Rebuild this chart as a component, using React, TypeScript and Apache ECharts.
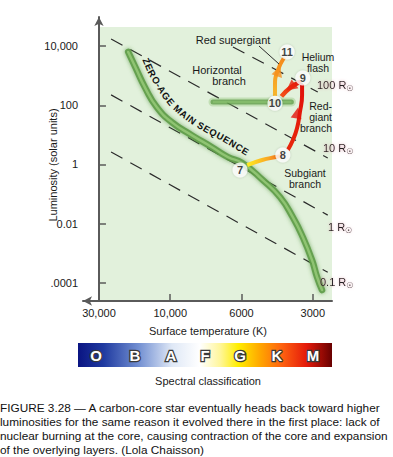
import React, { useEffect, useRef } from "react";
import * as echarts from "echarts";

// ---- data ----
// x axis is the figure's (non-linear) temperature scale: tick i sits at x = i
const tempTickLabels = ["30,000", "10,000", "6000", "3000"];
const tempTickPositions = [0, 1, 2, 3];
// y axis is log10(luminosity)
const lumTickValues = [4, 2, 0, -2, -4];
const lumTickLabels = ["10,000", "100", "1", "0.01", ".0001"];

const radiusNames = ["100", "10", "1", "0.1"];
const radiusStartX = [1.88, 0.17, 0.17, 0.17];
const radiusStartY = [3.97, 4.24, 2.35, 0.42];
const radiusEndX = [3.07, 3.21, 3.21, 3.21];
const radiusEndY = [2.45, 0.22, -1.71, -3.64];

const msX = [0.41, 0.51, 0.65, 0.81, 1.02, 1.3, 1.58, 1.81, 2.01, 2.3, 2.54, 2.72, 2.86, 2.99, 3.06, 3.13];
const msY = [3.8, 3.29, 2.58, 1.94, 1.43, 0.99, 0.59, 0.25, 0.05, -0.53, -1.1, -1.78, -2.45, -3.23, -3.8, -4.24];

const hbX = [1.6, 2.1, 2.7];
const hbY = [2.11, 2.11, 2.11];

const stageNames = ["7", "8", "9", "10", "11"];
const stageX = [1.98, 2.58, 2.86, 2.47, 2.64];
const stageY = [-0.19, 0.32, 2.92, 2.07, 3.8];

const track78X = [2.08, 2.29, 2.48, 2.58];
const track78Y = [-0.02, 0.15, 0.25, 0.3];
const track89X = [2.65, 2.72, 2.78, 2.82, 2.85, 2.85];
const track89Y = [0.49, 0.82, 1.23, 1.77, 2.35, 2.72];
const track910X = [2.83, 2.68, 2.56];
const track910Y = [2.8, 2.58, 2.3];
const track1011X = [2.47, 2.47, 2.5, 2.6];
const track1011Y = [2.3, 2.68, 3.12, 3.62];

const arrowX = [2.78, 2.69, 2.52];
const arrowY = [1.74, 2.61, 3.16];

const spectralClasses = ["O", "B", "A", "F", "G", "K", "M"];

const captionLines = [
  "FIGURE 3.28 \u2014 A carbon-core star eventually heads back toward higher",
  "luminosities for the same reason it evolved there in the first place: lack of",
  "nuclear burning at the core, causing contraction of the core and expansion",
  "of the overlying layers. (Lola Chaisson)",
];

// ---- styles ----
const FONT = "'Liberation Sans', Arial, Helvetica, sans-serif";
const X_MIN = -0.224;
const X_MAX = 3.27;
const Y_MIN = -4.61;
const Y_MAX = 4.98;
const GREEN_TOP = 4.64;
const arrowRot = [-10, 128, -19];
const arrowColors = ["#e3140a", "#e8200c", "#f5901e"];

function zamsGraphics(): any[] {
  const text = "ZERO-AGE MAIN SEQUENCE";
  const path = [
    [143, 59], [149, 73], [156, 85], [163, 96], [171, 106], [181, 115],
    [193, 124], [207, 132], [224, 141], [247, 155],
  ];
  const offset = 2.5; // push letters away from the band (towards upper right)
  const font = `bold 9.5px ${FONT}`;
  const canvas = document.createElement("canvas");
  const ctx = canvas.getContext("2d")!;
  ctx.font = font;
  const widths = text.split("").map((c) => ctx.measureText(c).width || 5);
  const total = widths.reduce((a, b) => a + b, 0);
  const segLen: number[] = [];
  let L = 0;
  for (let i = 1; i < path.length; i++) {
    const d = Math.hypot(path[i][0] - path[i - 1][0], path[i][1] - path[i - 1][1]);
    segLen.push(d);
    L += d;
  }
  const scale = L / total;
  const out: any[] = [];
  let cum = 0;
  text.split("").forEach((ch, i) => {
    const s = (cum + widths[i] / 2) * scale;
    cum += widths[i];
    let acc = 0;
    let k = 0;
    while (k < segLen.length - 1 && acc + segLen[k] < s) {
      acc += segLen[k];
      k++;
    }
    const t = Math.min(1, (s - acc) / segLen[k]);
    const p0 = path[k];
    const p1 = path[k + 1];
    const dx = p1[0] - p0[0];
    const dy = p1[1] - p0[1];
    const len = Math.hypot(dx, dy);
    const x = p0[0] + dx * t + (dy / len) * offset;
    const y = p0[1] + dy * t - (dx / len) * offset;
    const ang = Math.atan2(dy, dx);
    if (ch === " ") return;
    out.push({
      type: "text",
      x,
      y,
      rotation: -ang,
      z: 100,
      style: {
        text: ch,
        x: 0,
        y: 0,
        align: "center",
        verticalAlign: "middle",
        font,
        fill: "#111",
      },
    });
  });
  return out;
}

function txt(text: string, x: number, y: number, align = "center", extra: any = {}) {
  return {
    type: "text",
    x,
    y,
    z: 100,
    style: {
      text,
      x: 0,
      y: 0,
      align,
      verticalAlign: "middle",
      font: `11px ${FONT}`,
      fill: "#1a1a1a",
      ...extra,
    },
  };
}

const stacked = { font: `10.5px ${FONT}`, lineHeight: 11 };

function radiusLabel(name: string, x: number, y: number) {
  const halo = { textShadowColor: "rgba(215,150,165,0.75)", textShadowBlur: 3 };
  return {
    type: "text",
    x,
    y,
    z: 100,
    style: {
      text: `${name} R{s|\u2609}`,
      x: 0,
      y: 0,
      align: "left",
      verticalAlign: "middle",
      font: `11px ${FONT}`,
      fill: "#222",
      ...halo,
      rich: {
        s: {
          font: `8px 'DejaVu Sans', sans-serif`,
          fill: "#222",
          padding: [6, 0, 0, 0],
          ...halo,
        },
      },
    },
  };
}

function lineSeries(xs: number[], ys: number[], lineStyle: any, z = 3, smooth: any = true) {
  return {
    type: "line",
    data: xs.map((x, i) => [x, ys[i]]),
    symbol: "none",
    showSymbol: false,
    smooth,
    silent: true,
    z,
    lineStyle,
  };
}

export default function App() {
  const ref = useRef<HTMLDivElement>(null);
  useEffect(() => {
    if (!ref.current) return;
    const chart = echarts.init(ref.current, undefined, { renderer: "svg" });

    const radiusSeries = radiusNames.map((_, i) =>
      lineSeries(
        [radiusStartX[i], radiusEndX[i]],
        [radiusStartY[i], radiusEndY[i]],
        { color: "#2b2b2b", width: 1.2, type: [13, 9] },
        2,
        false
      )
    );

    const G = echarts.graphic.LinearGradient;

    const series: any[] = [
      {
        type: "line",
        data: [],
        silent: true,
        z: 1,
        markArea: {
          silent: true,
          itemStyle: { color: "#e2f1dc" },
          data: [[{ coord: [0, Y_MIN] }, { coord: [X_MAX, GREEN_TOP] }]],
        },
      },
      ...radiusSeries,
      lineSeries(msX, msY, {
        color: "#5e9c47",
        width: 6.5,
        cap: "round",
        shadowBlur: 4,
        shadowColor: "rgba(70,140,50,0.7)",
        opacity: 0.9,
      }, 3),
      lineSeries(msX, msY, { color: "#94c877", width: 2.5, cap: "round", opacity: 0.9 }, 3),
      lineSeries(hbX, hbY, { color: "#86bc6c", width: 9, cap: "round", opacity: 0.35 }, 3, false),
      lineSeries(hbX, hbY, { color: "#5e9c47", width: 5, cap: "round", opacity: 0.75 }, 3, false),
      lineSeries(hbX, hbY, { color: "#92c874", width: 1.5, opacity: 0.7 }, 3, false),
      lineSeries(track78X, track78Y, {
        width: 4,
        color: new G(0, 0, 1, 0, [
          { offset: 0, color: "#ffec20" },
          { offset: 0.6, color: "#f9a424" },
          { offset: 1, color: "#f05a12" },
        ]),
      }, 4),
      lineSeries(track89X, track89Y, {
        width: 4,
        color: new G(0, 0, 0, 1, [
          { offset: 0, color: "#e0100a" },
          { offset: 1, color: "#e8260c" },
        ]),
      }, 4),
      lineSeries(track910X, track910Y, {
        width: 4.5,
        color: new G(1, 0, 0, 1, [
          { offset: 0, color: "#e3140a" },
          { offset: 1, color: "#f4521a" },
        ]),
      }, 4),
      lineSeries(track1011X, track1011Y, {
        width: 4,
        color: new G(0, 0, 0, 1, [
          { offset: 0, color: "#f5881c" },
          { offset: 1, color: "#f8b82c" },
        ]),
      }, 4),
      {
        type: "scatter",
        silent: true,
        z: 5,
        symbol: "triangle",
        symbolSize: [11, 11],
        data: arrowX.map((x, i) => ({
          value: [x, arrowY[i]],
          symbolRotate: arrowRot[i],
          itemStyle: { color: arrowColors[i] },
        })),
      },
      {
        type: "scatter",
        silent: true,
        z: 6,
        symbol: "circle",
        symbolSize: 15,
        itemStyle: { color: "#ffffff", shadowBlur: 2, shadowColor: "rgba(0,0,0,0.25)" },
        label: {
          show: true,
          position: "inside",
          formatter: (p: any) => p.name,
          fontFamily: FONT,
          fontWeight: "bold",
          fontSize: 11,
          color: "#111",
        },
        data: stageNames.map((n, i) => ({ name: n, value: [stageX[i], stageY[i]] })),
      },
    ];

    const specStops = [
      { offset: 0, color: "#0a1482" },
      { offset: 0.1, color: "#1f3aa0" },
      { offset: 0.24, color: "#7390d2" },
      { offset: 0.37, color: "#dfe8f6" },
      { offset: 0.48, color: "#ffffff" },
      { offset: 0.56, color: "#fff69a" },
      { offset: 0.63, color: "#ffee00" },
      { offset: 0.72, color: "#ffa400" },
      { offset: 0.8, color: "#ff6410" },
      { offset: 0.9, color: "#e41a0a" },
      { offset: 1, color: "#680000" },
    ];
    const specX = [96, 135, 171, 205, 240, 277, 313];

    const graphic: any[] = [
      ...zamsGraphics(),
      { type: "line", z: 90, shape: { x1: 259, y1: 46, x2: 279, y2: 64 }, style: { stroke: "#2b2b2b", lineWidth: 1 } },
      txt("Red supergiant", 233, 40),
      txt("Helium\nflash", 318, 62, "center", stacked),
      txt("Horizontal", 217, 70),
      txt("branch", 229, 81),
      txt("Red-\ngiant\nbranch", 332, 117, "right", stacked),
      txt("Subgiant\nbranch", 305, 178, "center", stacked),
      radiusLabel(radiusNames[0], 317, 85),
      radiusLabel(radiusNames[1], 323, 148),
      radiusLabel(radiusNames[2], 328, 227),
      radiusLabel(radiusNames[3], 320, 282),
      {
        type: "text",
        x: 53,
        y: 165,
        rotation: Math.PI / 2,
        z: 100,
        style: {
          text: "Luminosity (solar units)",
          x: 0, y: 0, align: "center", verticalAlign: "middle",
          font: `11px ${FONT}`, fill: "#1a1a1a",
        },
      },
      txt("Surface temperature (K)", 208, 331),
      {
        type: "rect",
        z: 50,
        shape: { x: 78, y: 343, width: 254, height: 24 },
        style: { fill: new G(0, 0, 1, 0, specStops) },
      },
      ...spectralClasses.map((c, i) => ({
        type: "text",
        x: specX[i],
        y: 355,
        z: 60,
        style: {
          text: c,
          x: 0, y: 0, align: "center", verticalAlign: "middle",
          font: `bold 15px ${FONT}`,
          fill: "#ffffff",
          stroke: "#3a3a3a",
          lineWidth: 2.5,
          strokeFirst: true,
        },
      })),
      txt("Spectral classification", 208, 381),
      ...captionLines.map((l, i) =>
        txt(l, 0, 407.5 + i * 14.3, "left", { font: `11.8px ${FONT}`, fill: "#111" })
      ),
    ];

    chart.setOption({
      animation: false,
      textStyle: { fontFamily: FONT },
      grid: {
        left: 83,
        right: 61,
        top: 17,
        bottom: 156,
        containLabel: false,
        outerBoundsMode: "none",
      },
      xAxis: {
        type: "value",
        min: X_MIN,
        max: X_MAX,
        z: 10,
        splitLine: { show: false },
        axisLine: {
          show: true,
          onZero: false,
          symbol: ["arrow", "none"],
          symbolSize: [7, 9],
          lineStyle: { color: "#5a5a5a", width: 2 },
        },
        axisTick: {
          show: true,
          inside: true,
          length: 7,
          customValues: tempTickPositions.slice(1),
          lineStyle: { color: "#5a5a5a", width: 1.5 },
        },
        axisLabel: {
          show: true,
          customValues: tempTickPositions,
          margin: 6,
          fontSize: 11,
          color: "#1a1a1a",
          fontFamily: FONT,
          formatter: (v: number) => tempTickLabels[Math.round(v)] ?? "",
        },
      },
      yAxis: {
        type: "value",
        min: Y_MIN,
        max: Y_MAX,
        z: 10,
        splitLine: { show: false },
        axisLine: {
          show: true,
          onZero: true,
          symbol: ["none", "arrow"],
          symbolSize: [7, 9],
          lineStyle: { color: "#5a5a5a", width: 2 },
        },
        axisTick: {
          show: true,
          inside: true,
          length: 7,
          customValues: lumTickValues,
          lineStyle: { color: "#5a5a5a", width: 1.5 },
        },
        axisLabel: {
          show: true,
          customValues: lumTickValues,
          margin: 5,
          fontSize: 11,
          color: "#1a1a1a",
          fontFamily: FONT,
          formatter: (v: number) => {
            const i = lumTickValues.indexOf(Math.round(v));
            return i >= 0 ? lumTickLabels[i] : "";
          },
        },
      },
      series,
      graphic,
    });

    return () => chart.dispose();
  }, []);

  return (
    <div
      ref={ref}
      style={{ position: "fixed", left: 0, top: 0, width: 393, height: 457, background: "#fff" }}
    />
  );
}
